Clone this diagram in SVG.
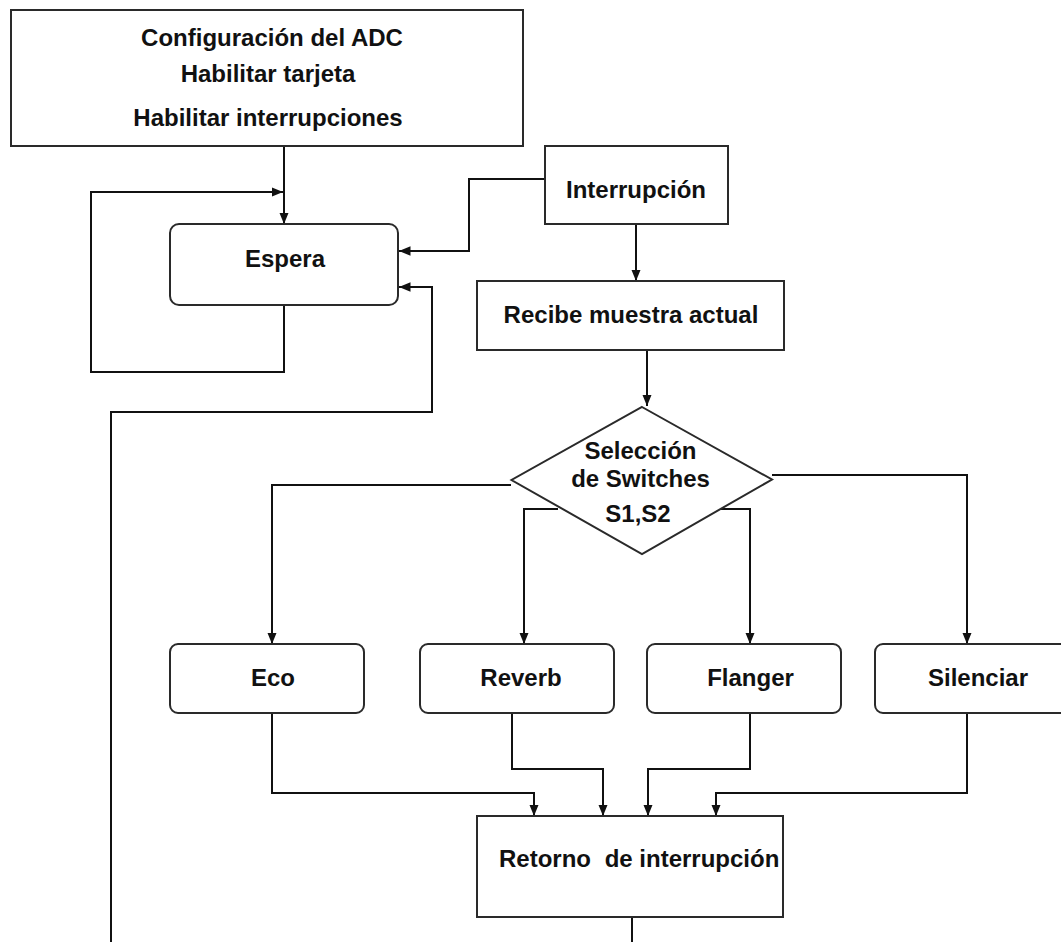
<svg xmlns="http://www.w3.org/2000/svg" width="1061" height="942" viewBox="0 0 1061 942">
<style>
  .box { fill: #ffffff; stroke: #2a2a2a; stroke-width: 2; }
  .lbl { font-family: "Liberation Sans", Arial, sans-serif; font-size: 24px; font-weight: bold; fill: #111111; text-anchor: middle; }
  .conn { fill: none; stroke: #111111; stroke-width: 2; marker-end: url(#arrow); }
</style>
<defs>
  <marker id="arrow" markerUnits="userSpaceOnUse" markerWidth="12" markerHeight="12" viewBox="0 0 12 12" refX="11.5" refY="6" orient="auto">
    <path d="M0,1.3 L11.5,6 L0,10.7 Z" fill="#111111"/>
  </marker>
</defs>
<rect width="1061" height="942" fill="#ffffff"/>

<g id="connectors">
  <path class="conn" d="M284,146 V224"/>
  <path class="conn" d="M284,305 V372 H91 V192 H283"/>
  <path class="conn" d="M545,179 H469 V251 H399"/>
  <path class="conn" d="M636,224 V281"/>
  <path class="conn" d="M647,350 V406"/>
  <path class="conn" d="M511,485 H272 V644"/>
  <path class="conn" d="M558,509 H524 V644"/>
  <path class="conn" d="M721,509 H750 V644"/>
  <path class="conn" d="M772,475 H967 V644"/>
  <path class="conn" d="M272,713 V793 H534 V816"/>
  <path class="conn" d="M512,713 V769 H603 V816"/>
  <path class="conn" d="M750,713 V769 H648 V816"/>
  <path class="conn" d="M967,713 V793 H716 V816"/>
  <path class="conn" d="M632,917 V965 H111 V412 H432 V287 H399"/>
</g>

<g id="node-config">
  <rect class="box" x="11" y="10" width="512" height="136"/>
  <text class="lbl" x="272" y="46">Configuración del ADC</text>
  <text class="lbl" x="268" y="82">Habilitar tarjeta</text>
  <text class="lbl" x="268" y="126">Habilitar interrupciones</text>
</g>

<g id="node-espera">
  <rect class="box" x="170" y="224" width="228" height="81" rx="9" ry="9"/>
  <text class="lbl" x="285" y="267">Espera</text>
</g>

<g id="node-interrupcion">
  <rect class="box" x="545" y="146" width="183" height="78"/>
  <text class="lbl" x="636" y="198">Interrupción</text>
</g>

<g id="node-recibe">
  <rect class="box" x="477" y="281" width="307" height="69"/>
  <text class="lbl" x="631" y="323">Recibe muestra actual</text>
</g>

<g id="node-seleccion">
  <polygon class="box" points="642,407 772,479.5 642,554 511.5,480"/>
  <text class="lbl" x="640.5" y="459">Selección</text>
  <text class="lbl" x="640.5" y="487">de Switches</text>
  <text class="lbl" x="638" y="522">S1,S2</text>
</g>

<g id="node-eco">
  <rect class="box" x="170" y="644" width="194" height="69" rx="8" ry="8"/>
  <text class="lbl" x="273" y="686">Eco</text>
</g>

<g id="node-reverb">
  <rect class="box" x="420" y="644" width="194" height="69" rx="8" ry="8"/>
  <text class="lbl" x="521" y="686">Reverb</text>
</g>

<g id="node-flanger">
  <rect class="box" x="647" y="644" width="194" height="69" rx="8" ry="8"/>
  <text class="lbl" x="750.5" y="686">Flanger</text>
</g>

<g id="node-silenciar">
  <rect class="box" x="875" y="644" width="200" height="69" rx="8" ry="8"/>
  <text class="lbl" x="978" y="686">Silenciar</text>
</g>

<g id="node-retorno">
  <rect class="box" x="477" y="816" width="306" height="101"/>
  <text class="lbl" x="499" y="867" style="text-anchor:start">Retorno<tspan dx="7"> de interrupción</tspan></text>
</g>
</svg>
